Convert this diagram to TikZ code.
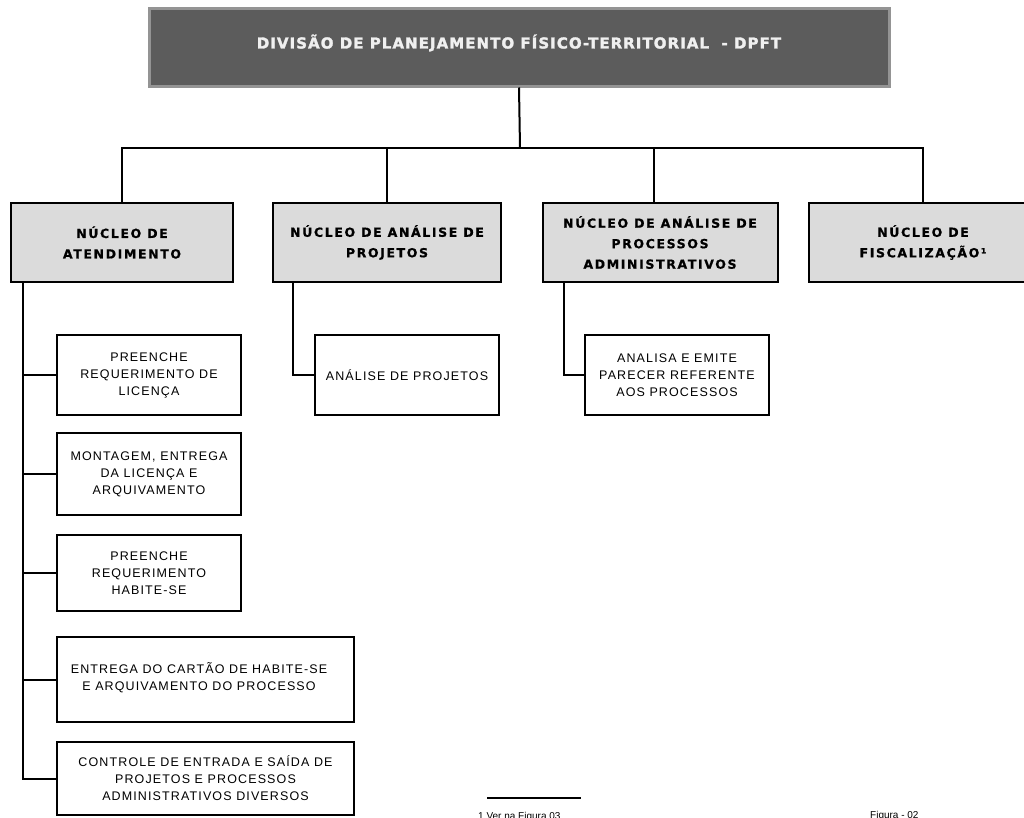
\documentclass[tikz,border=0pt]{standalone}
\usepackage{fontspec}
\setmainfont{Liberation Sans}
\newfontfamily\headfont{DejaVu Sans}[LetterSpace=13,FakeBold=0.8]
\newfontfamily\taskfont{Liberation Sans}[LetterSpace=9]
\newfontfamily\titlefont{DejaVu Sans}[LetterSpace=7,FakeBold=2]
\begin{document}
\begin{tikzpicture}[x=1pt,y=-1pt,
  divisao/.style={draw=black!42, line width=3pt, fill=black!64, text=white,
    inner sep=0pt},
  nucleo/.style={draw=black, line width=2pt, fill=black!14, inner sep=0pt,
    align=center, font=\headfont\bfseries\fontsize{12.5}{20.5}\selectfont},
  tarefa/.style={draw=black, line width=1.5pt, fill=white, inner sep=0pt,
    align=center, font=\taskfont\fontsize{12.5}{17}\selectfont},
  conn/.style={draw=black, line width=2pt}]
\useasboundingbox (0,0) rectangle (1024,817);
\clip (0,0) rectangle (1024,817);

% division header
\node[divisao, minimum width=740pt, minimum height=78pt] (dpft) at (519,47) {};
\node[text=black!6, font=\titlefont\bfseries\fontsize{15}{18}\selectfont] (dpftlbl) at (519,43)
  {DIVISÃO DE PLANEJAMENTO FÍSICO-TERRITORIAL\ \ - DPFT};

% the four units
\node[nucleo, minimum width=222pt, minimum height=79pt] (n1) at (122,242.5)
  {NÚCLEO DE\\ATENDIMENTO};
\node[nucleo, minimum width=228pt, minimum height=79pt] (n2) at (387,242.5)
  {NÚCLEO DE ANÁLISE DE\\PROJETOS};
\node[nucleo, minimum width=235pt, minimum height=79pt] (n3) at (660,242.5)
  {NÚCLEO DE ANÁLISE DE\\PROCESSOS\\ADMINISTRATIVOS};
\node[nucleo, minimum width=228pt, minimum height=79pt] (n4) at (923,242.5)
  {NÚCLEO DE\\FISCALIZAÇÃO¹};

% tasks of the reception unit
\node[tarefa, minimum width=184pt, minimum height=80pt] (a) at (149,375)
  {PREENCHE\\REQUERIMENTO DE\\LICENÇA};
\node[tarefa, minimum width=184pt, minimum height=82pt] (b) at (149,474)
  {MONTAGEM, ENTREGA\\DA LICENÇA E\\ARQUIVAMENTO};
\node[tarefa, minimum width=184pt, minimum height=76pt] (c) at (149,573)
  {PREENCHE\\REQUERIMENTO\\HABITE-SE};
\node[tarefa, minimum width=297pt, minimum height=85pt] (d) at (205.5,679.5) {};
\node[font=\taskfont\fontsize{12.5}{17}\selectfont, align=center] (dlbl) at (199,678)
  {ENTREGA DO CARTÃO DE HABITE-SE\\E ARQUIVAMENTO DO PROCESSO};
\node[tarefa, minimum width=297pt, minimum height=73pt] (e) at (205.5,778.5)
  {CONTROLE DE ENTRADA E SAÍDA DE\\PROJETOS E PROCESSOS\\ADMINISTRATIVOS DIVERSOS};

% tasks of the other units
\node[tarefa, minimum width=184pt, minimum height=80pt] (p) at (407,375)
  {ANÁLISE DE PROJETOS};
\node[tarefa, minimum width=184pt, minimum height=80pt] (q) at (677,375)
  {ANALISA E EMITE\\PARECER REFERENTE\\AOS PROCESSOS};

% hierarchy connectors
\coordinate (bus) at (520,148);
\draw[conn] (dpft.south) -- (bus);
\draw[conn] (n1.north) -- (n1.north |- bus) -- (n4.north |- bus) -- (n4.north);
\draw[conn] (n2.north) -- (n2.north |- bus);
\draw[conn] ([xshift=-6pt]n3.north) -- ([xshift=-6pt]n3.north |- bus);

\coordinate (trunk) at ([xshift=13pt]n1.south west);
\draw[conn] (trunk) |- (e.west);
\draw[conn] (a.west) -- (a.west -| trunk);
\draw[conn] (b.west) -- (b.west -| trunk);
\draw[conn] (c.west) -- (c.west -| trunk);
\draw[conn] (d.west) -- (d.west -| trunk);
\draw[conn] ([xshift=21pt]n2.south west) |- (p.west);
\draw[conn] ([xshift=22pt]n3.south west) |- (q.west);

% footnote and caption
\coordinate (fnl) at (487,798);
\coordinate (fnr) at (581,798);
\draw[line width=1.2pt] (fnl) -- (fnr);
\node[anchor=north west, inner sep=0pt, font=\fontsize{10}{12}\selectfont] (fn) at (478,812)
  {1 Ver na Figura 03};
\node[anchor=north west, inner sep=0pt, font=\fontsize{10}{12}\selectfont] (fig) at (870,811)
  {Figura - 02};
\end{tikzpicture}
\end{document}
